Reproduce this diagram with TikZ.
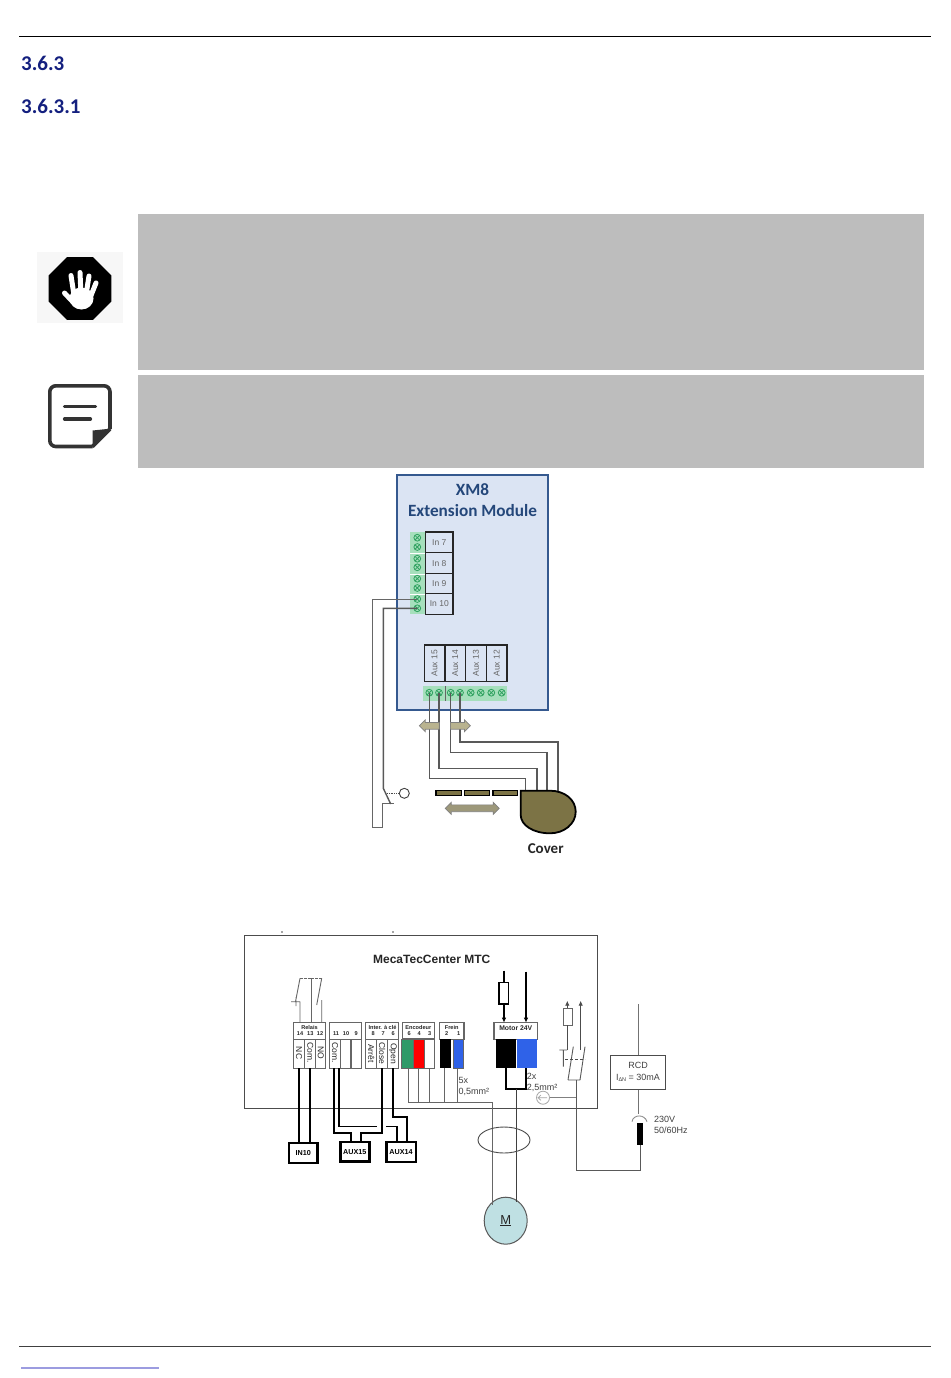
\documentclass[tikz,border=0pt]{standalone}
\usepackage{fontspec}
\setmainfont{Liberation Sans}
\newfontfamily\calfont{Carlito}
\usetikzlibrary{arrows.meta,shapes.geometric,shapes.arrows,calc}
\definecolor{headblue}{HTML}{14207F}
\definecolor{xmtitle}{HTML}{24477A}
\definecolor{xmfill}{HTML}{DBE4F3}
\definecolor{xmedge}{HTML}{35598F}
\definecolor{termgreen}{HTML}{A6DFBC}
\definecolor{screwgreen}{HTML}{2FA260}
\definecolor{coverolive}{HTML}{7C7345}
\definecolor{tanfill}{HTML}{B9B38F}
\definecolor{blockblue}{HTML}{2F62E8}
\definecolor{enggreen}{HTML}{2E9A68}
\definecolor{motorfill}{HTML}{BFE0E3}
\definecolor{linkblue}{HTML}{9C9CE0}
\definecolor{boxgrey}{HTML}{BDBDBD}
\tikzset{
  x=1pt,y=-1pt,
  heading/.style={inner sep=0pt,anchor=west,text=headblue,font=\calfont\bfseries\fontsize{21}{23}\selectfont},
  inlabel/.style={draw=black!85,line width=1.3pt,fill=xmfill,text=black!60,inner sep=0pt,minimum width=27.3pt,font=\fontsize{8.5}{9}\selectfont},
  auxlabel/.style={draw=black!85,line width=1.3pt,fill=xmfill,text=black!60,inner sep=0pt,minimum width=36.3pt,minimum height=20.6pt,rotate=90,font=\fontsize{8.5}{9}\selectfont},
  wire/.style={draw=black!65,line width=1.4pt},
  wirethin/.style={draw=black!60,line width=1pt},
  heavy/.style={draw=black,line width=2.3pt},
  tanarrow/.style={single arrow,draw=black!50,fill=tanfill,line width=0.7pt,inner sep=3pt,single arrow head extend=2.5pt,single arrow tip angle=90,minimum height=20pt,minimum width=11.5pt},
  slat/.style={draw=black,line width=1.3pt,fill=coverolive},
  hdr/.style={inner sep=0pt,font=\fontsize{5.6}{6}\selectfont\bfseries,text=black!85},
  vlab/.style={inner sep=0pt,rotate=-90,font=\fontsize{8.5}{9}\selectfont,text=black!85},
  cell/.style={draw=black!60,line width=1.1pt,fill=white},
  colour cell/.style={draw=black!60,line width=0.6pt},
  term/.style={draw=black,line width=2.4pt,fill=white,inner sep=0pt,font=\fontsize{7.2}{8}\selectfont\bfseries},
  plain/.style={inner sep=0pt,align=left,anchor=west,font=\fontsize{9}{11}\selectfont,text=black!75},
  feedarrow/.style={-{Latex[length=5pt,width=4.5pt]}},
}
\newcommand{\screw}[2]{\draw[screwgreen,line width=0.8pt] (#1,#2) circle (3.4pt);
  \draw[screwgreen,line width=0.8pt] ($(#1,#2)+(-2.4,-2.4)$)--($(#1,#2)+(2.4,2.4)$) ($(#1,#2)+(-2.4,2.4)$)--($(#1,#2)+(2.4,-2.4)$);}
\begin{document}
\begin{tikzpicture}
\useasboundingbox (0,0) rectangle (950,1378);
\fill[white] (0,0) rectangle (950,1378);
% page furniture
\draw[black,line width=1pt] (19,36.3) -- (931,36.3);
\draw[black!75,line width=1pt] (19,1346.7) -- (931,1346.7);
\draw[linkblue,line width=1.8pt] (21,1367.7) -- (159,1367.7);
\node[heading] (h1) at (21,63.5) {3.6.3};
\node[heading] (h2) at (21,106.5) {3.6.3.1};
\fill[boxgrey] (138,214) rectangle (924,370);
\fill[boxgrey] (138,374.5) rectangle (924,468);
% stop icon
\fill[black!3] (37,252) rectangle (123,323);
\node[regular polygon,regular polygon sides=8,fill=black,minimum size=68pt,inner sep=0pt] (stop) at (80,288.5) {};
\fill[white] (81.5,298.5) ellipse (12pt and 11pt);
\draw[white,line width=5pt,line cap=round] (64.5,293) -- (73,302) (71,275.5) -- (74,295) (80,272.5) -- (81,295) (89,276) -- (86,295) (96,283) -- (90,298);
% note icon
\draw[black!80,line width=3.6pt,rounded corners=6pt] (92.5,446.5) -- (49.8,446.5) -- (49.8,385.8) -- (110,385.8) -- (110,429);
\draw[black!80,line width=3.6pt] (110,429) -- (92.5,446.5);
\fill[black!80] (92.7,448) -- (92.7,430.5) -- (111.7,428.5) -- cycle;
\draw[black!80,line width=3.2pt,line cap=round] (64.5,406.7) -- (95.5,406.7);
\draw[black!80,line width=3.2pt,line cap=round] (64.5,419) -- (90.5,419);
% XM8 module
\draw[xmedge,line width=2pt,fill=xmfill] (396.7,475.3) rectangle (548.3,710.3);
\node[inner sep=0pt,text=xmtitle,font=\calfont\bfseries\fontsize{17.2}{21.4}\selectfont,align=center] (xmt) at (472.5,500) {XM8\\Extension Module};
\fill[termgreen] (410.3,532) rectangle (425.3,614.3);
\draw[white,line width=.4pt] (410.3,552.7)--(425.3,552.7) (410.3,573.7)--(425.3,573.7) (410.3,593.7)--(425.3,593.7);
\foreach \y in {537.7,547,558.7,567.3,578.7,588,599,608.3}{\screw{417.3}{\y}}
\node[inlabel,minimum height=20.7pt] (in7) at (439.3,542.3) {In 7};
\node[inlabel,minimum height=21pt] (in8) at (439.3,563.2) {In 8};
\node[inlabel,minimum height=20pt] (in9) at (439.3,583.7) {In 9};
\node[inlabel,minimum height=20.6pt] (in10) at (439.3,604) {In 10};
\node[auxlabel] (a15) at (434.5,663.2) {Aux 15};
\node[auxlabel] (a14) at (455.3,663.2) {Aux 14};
\node[auxlabel] (a13) at (476,663.2) {Aux 13};
\node[auxlabel] (a12) at (496.7,663.2) {Aux 12};
\fill[termgreen] (423.3,686) rectangle (507.3,700.7);
\foreach \x in {429.3,439,450.7,460,470.7,480.7,491.3,501.7}{\screw{\x}{692.7}}
\draw[black!60,line width=.6pt] (445.3,686)--(445.3,700.7);
% XM8 wiring
\coordinate (s1) at (417.3,599);
\coordinate (s2) at (417.3,608.3);
\draw[wirethin] (s1) -- (372.7,599) -- (372.7,827.3) -- (382.7,827.3) -- (382.7,803.7) -- (394.3,803.7);
\draw[wire] (s2) -- (383.3,608.3) -- (383.3,788.3) -- (390.7,804);
\node[draw=black!75,line width=.9pt,circle,minimum size=10pt,inner sep=0pt] (trip) at (404.3,793.3) {};
\draw[black!70,line width=.9pt,densely dotted] (386.7,793.3) -- (trip.west);
\draw[wire] (429.3,692.7) -- (429.3,778.7) -- (525.7,778.7) -- (525.7,791);
\draw[wire] (439,692.7) -- (439,768.3) -- (537,768.3) -- (537,791);
\draw[wire] (450.7,692.7) -- (450.7,752.3) -- (547,752.3) -- (547,791);
\draw[wire] (460,692.7) -- (460,742) -- (558,742) -- (558,791);
\node[tanarrow,shape border rotate=180] (ar1) at (431,725.8) {};
\node[tanarrow] (ar2) at (458.7,725.8) {};
% cover
\foreach \a/\b in {436/461.3,464.3/489.3,493/517.7}{\draw[slat] (\a,790.3) rectangle (\b,795.8);}
\node[double arrow,draw=black!50,fill=tanfill!85!black,line width=.7pt,inner sep=3pt,minimum height=54pt,minimum width=12pt,double arrow head extend=2.5pt,double arrow tip angle=90] (ar3) at (472.2,808.3) {};
\draw[black,line width=1.8pt,fill=coverolive] (520.7,790.7) -- (550,790.7) .. controls (565,790.7) and (575.7,800) .. (575.7,811.7) .. controls (575.7,824) and (564,833.3) .. (550,833.3) .. controls (533,833.3) and (520.7,825) .. (520.7,815) -- cycle;
\node[inner sep=0pt,font=\calfont\bfseries\fontsize{15}{16}\selectfont,text=black!85] (cover) at (545.7,848.5) {Cover};
% MTC frame
\draw[black!70,line width=1.2pt] (244.3,935.7) rectangle (597.7,1108.3);
\fill[black!70] (282,932) circle (.8pt) (393,932) circle (.8pt);
\node[inner sep=0pt,font=\fontsize{12}{13}\selectfont\bfseries,text=black!85] (mtc) at (431.7,959.5) {MecaTecCenter MTC};
% relay contacts
\draw[black!60,line width=.9pt,dashed,dash pattern=on 3pt off .8pt] (300,978.3) -- (321.7,978.3);
\draw[black!60,line width=.9pt] (300,978.3) -- (295.5,1001.7) (291,1001.7) -- (300,1001.7) (300,1001.7) -- (300,1022.7) (296,997) -- (296,1006);
\draw[black!60,line width=.9pt] (311.3,978.3) -- (311.3,1022.7);
\draw[black!60,line width=.9pt] (321.7,978.3) -- (316.7,1005) (321.7,1000) -- (321.7,1022.7);
% terminal blocks: relais
\draw[cell] (293.3,1022.7) rectangle (325.7,1068.3);
\draw[cell] (293.3,1039.3) -- (325.7,1039.3) (304.7,1039.3) -- (304.7,1068.3) (315.7,1039.3) -- (315.7,1068.3);
\node[hdr] (relais) at (309.5,1027.3) {Relais};
\node[hdr] (n14) at (300,1034) {14};
\node[hdr] (n13) at (310.3,1034) {13};
\node[hdr] (n12) at (320,1034) {12};
\node[vlab] (nc) at (299,1053) {NC};
\node[vlab] (com1) at (310.2,1053) {Com.};
\node[vlab] (no) at (320.7,1053) {NO};
% block 11 10 9
\draw[cell] (329.3,1022.7) rectangle (361.7,1068.3);
\draw[cell] (329.3,1039.3) -- (361.7,1039.3) (340.7,1039.3) -- (340.7,1068.3) (351,1039.3) -- (351,1068.3);
\node[hdr] (n11) at (336,1034) {11};
\node[hdr] (n10) at (346,1034) {10};
\node[hdr] (n9) at (356.3,1034) {9};
\node[vlab] (com2) at (335,1053) {Com.};
% block inter
\draw[cell] (365.7,1022.7) rectangle (398.3,1068.3);
\draw[cell] (365.7,1039.3) -- (398.3,1039.3) (376.7,1039.3) -- (376.7,1068.3) (387.7,1039.3) -- (387.7,1068.3);
\node[hdr] (inter) at (382.5,1027.3) {Inter. à clé};
\node[hdr] (n8) at (373.3,1034) {8};
\node[hdr] (n7) at (383.3,1034) {7};
\node[hdr] (n6) at (393.3,1034) {6};
\node[vlab] (arret) at (371.2,1053.5) {Arrêt};
\node[vlab] (close) at (382.2,1053.5) {Close};
\node[vlab] (open) at (393,1053.5) {Open};
% encodeur
\draw[cell] (402.3,1022.7) rectangle (434.3,1038.7);
\node[hdr] (enc) at (418.3,1027) {Encodeur};
\node[hdr] (n6b) at (409.3,1033.7) {6};
\node[hdr] (n4) at (419.3,1033.7) {4};
\node[hdr] (n3) at (429.7,1033.7) {3};
\draw[colour cell,fill=enggreen] (401.7,1039) rectangle (413.3,1068.3);
\draw[colour cell,fill=red] (413.3,1039) rectangle (424.3,1068.3);
\draw[colour cell,fill=white] (424.3,1039) rectangle (434,1068.3);
% frein
\draw[cell] (439.3,1022.7) rectangle (464,1039.3);
\node[hdr] (frein) at (451.7,1027.3) {Frein};
\node[hdr] (n2) at (446.7,1034) {2};
\node[hdr] (n1) at (458.7,1034) {1};
\fill[black] (440,1039.3) rectangle (451.3,1068.3);
\draw[colour cell,fill=blockblue] (453.3,1039.3) rectangle (463.7,1068.3);
% encoder bus
\draw[wirethin] (408.3,1068.3) -- (408.3,1102) (418.7,1068.3) -- (418.7,1102) (429,1068.3) -- (429,1102) (444.7,1068.3) -- (444.7,1102) (457.3,1068.3) -- (457.3,1102);
\node[plain] (sec5) at (458.3,1086) {5x\\0,5mm²};
% motor block
\draw[cell] (494,1022.7) rectangle (537.3,1039.3);
\node[hdr,font=\fontsize{6.8}{8}\selectfont\bfseries] (mot24) at (515.7,1028.5) {Motor 24V};
\fill[black] (495.7,1039.3) rectangle (516,1068);
\fill[blockblue] (517.3,1039.3) rectangle (537.3,1068);
\draw[black,line width=1.8pt] (506,1068) -- (506,1089.3) -- (526,1089.3) -- (526,1068);
\node[plain] (sec2) at (526.7,1082) {2x\\2,5mm²};
\draw[black,line width=1.6pt,feedarrow] (504,970.7) -- (504,1022.7);
\draw[black,line width=1.2pt,fill=white] (499,982.3) rectangle (508.7,1004);
\draw[black,line width=1.6pt,feedarrow] (526,971.7) -- (526,1022.7);
% motor
\node[draw=black!65,line width=1pt,fill=motorfill,ellipse,minimum width=43pt,minimum height=47pt,inner sep=0pt,font=\fontsize{13}{14}\selectfont,text=black!85] (mot) at (505.7,1220.7) {\underline{M}};
\draw[wirethin] (408.3,1102) -- (492.7,1102) -- (492.7,1205);
\draw[black!75,line width=1.1pt] (516.7,1089.3) -- (516.7,1202);
\node[draw=black!70,line width=.9pt,ellipse,minimum width=52pt,minimum height=26pt,inner sep=0pt] (bundle) at (504,1140) {};
% protective earth symbol and switch
\node[draw=black!35,line width=.8pt,circle,minimum size=13pt,inner sep=0pt] (pe) at (543,1097.7) {};
\draw[black!35,line width=.7pt] (538,1097.7) -- (547,1097.7) (541,1095) -- (538,1097.7) -- (541,1100.4);
\draw[black!50,line width=.9pt] (pe.east) -- (576,1097.7);
\draw[black!70,line width=.9pt,feedarrow] (567.3,1025) -- (567.3,1000.7);
\draw[black!60,line width=.9pt,fill=white] (563.3,1008.3) rectangle (572,1025);
\draw[black!70,line width=.9pt] (567.3,1025) -- (567.3,1050);
\draw[black!70,line width=.9pt,feedarrow] (580.7,1050) -- (580.7,1000.7);
\draw[black!65,line width=.9pt] (559.3,1050) -- (567,1050) (563.3,1050) -- (563.3,1066.7) (568,1080) -- (573.3,1046.7) (580,1080) -- (585,1046.7) (568,1080) -- (580,1080);
\draw[black!70,line width=.9pt,densely dashed] (565,1059.3) -- (585,1059.3);
% RCD
\node[draw=black!70,line width=1pt,fill=white,minimum width=55.4pt,minimum height=33.7pt,inner sep=0pt,align=center,font=\fontsize{9}{12}\selectfont,text=black!75] (rcd) at (638,1072.2) {RCD\\I\raisebox{-1pt}{\fontsize{5.5}{6}\selectfont ΔN} = 30mA};
\coordinate (mains) at (638.7,1004);
\coordinate (socket) at (638.7,1114);
\draw[black!55,line width=1pt] (mains) -- (mains |- rcd.north);
\draw[black!55,line width=1pt] (socket |- rcd.south) -- (socket);
\draw[black!45,line width=.9pt] (632,1121.7) .. controls (633,1114) and (645,1114) .. (647,1121.7);
\fill[black] (636.7,1123.3) rectangle (643.3,1145);
\node[plain] (mainsv) at (654,1124.7) {230V\\50/60Hz};
\draw[black!65,line width=1pt] (576,1080) -- (576,1170) -- (640.5,1170) -- (640.5,1145);
% thick wiring to terminals
\node[term,minimum width=28.7pt,minimum height=20pt] (t10) at (303.3,1152.7) {IN10};
\node[term,minimum width=29pt,minimum height=19.7pt] (t15) at (354.8,1151.8) {AUX15};
\node[term,minimum width=29.4pt,minimum height=20pt] (t14) at (401,1151.7) {AUX14};
\coordinate (nc b) at (299,1068.3);
\coordinate (com b) at (310,1068.3);
\coordinate (c11a) at (334.3,1068.3);
\coordinate (c11b) at (338.7,1068.3);
\coordinate (c7) at (382.3,1068.3);
\coordinate (c6) at (393.3,1068.3);
\draw[heavy] (nc b) -- (nc b |- t10.north);
\draw[heavy] (com b) -- (com b |- t10.north);
\draw[black,line width=1.8pt] (c11a) -- (334.3,1133) -- (350.7,1133) -- (350.7,1142);
\draw[black,line width=1.6pt] (c11b) -- (338.7,1126.3) -- (377.3,1126.3);
\draw[black,line width=1.8pt] (c7) -- (382.3,1133) -- (360.7,1133) -- (360.7,1142);
\draw[black,line width=1.6pt] (386,1126.3) -- (396.7,1126.3) -- (396.7,1142);
\draw[heavy] (c6) -- (393.3,1117.3) -- (407.3,1117.3) -- (407.3,1142);
\end{tikzpicture}
\end{document}
